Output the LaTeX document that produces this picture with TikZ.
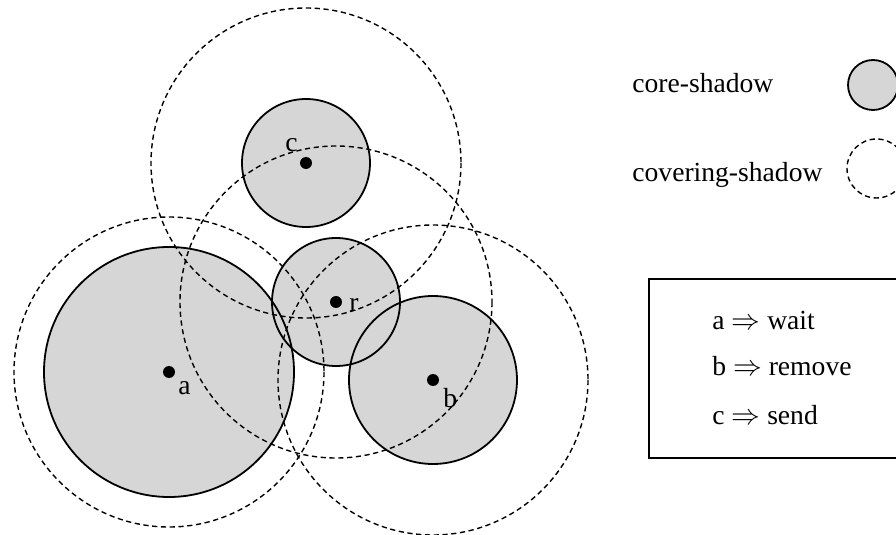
\documentclass[tikz,border=0pt]{standalone}
\usepackage{fontspec}
\setmainfont{Liberation Serif}
\begin{document}
\begin{tikzpicture}[x=0.5pt,y=-0.5pt,
  core/.style={draw=black,line width=0.9pt},
  corefill/.style={fill=black!16},
  cover/.style={draw=black,line width=0.7pt,dash pattern=on 2.6pt off 1.8pt},
  dot/.style={fill=black},
  lbl/.style={anchor=base west,inner sep=0pt,font=\fontsize{13.8}{16}\selectfont},
  keybox/.style={draw=black,line width=0.6pt}]
\useasboundingbox (0,0) rectangle (896,535);
% centres of the four nodes
\coordinate (a) at (169,372);
\coordinate (b) at (433,380);
\coordinate (c) at (306,163);
\coordinate (r) at (336,302);
% core shadows: fills first, then outlines
\fill[corefill] (a) circle[radius=125];
\fill[corefill] (c) circle[radius=64];
\fill[corefill] (r) circle[radius=64];
\fill[corefill] (b) circle[radius=84];
\draw[core] (a) circle[radius=125];
\draw[core] (c) circle[radius=64];
\draw[core] (r) circle[radius=64];
\draw[core] (b) circle[radius=84];
% covering shadows
\draw[cover] (a) circle[radius=155];
\draw[cover] (c) circle[radius=155];
\draw[cover] (r) circle[radius=156];
\draw[cover] (b) circle[radius=155];
% node points and names
\foreach \p in {a,b,c,r} \fill[dot] (\p) circle[radius=6];
\node[lbl] (la) at (178,394) {a};
\node[lbl] (lb) at (443,408) {b};
\node[lbl] (lc) at (285,152) {c};
\node[lbl] (lr) at (349,312) {r};
% legend
\node[lbl] (tcore) at (632,93) {core-shadow};
\node[lbl] (tcover) at (632,182) {covering-shadow};
\draw[core,corefill] (873,85) circle[radius=25];
\draw[cover] (876.5,168.5) circle[radius=29.5];
% actions
\draw[keybox] (905,279) -- (649,279) -- (649,458) -- (905,458);
\node[lbl] (ka) at (712,329) {a $\Rightarrow$ wait};
\node[lbl] (kb) at (712,376) {b $\Rightarrow$ remove};
\node[lbl] (kc) at (712,424) {c $\Rightarrow$ send};
\end{tikzpicture}
\end{document}
